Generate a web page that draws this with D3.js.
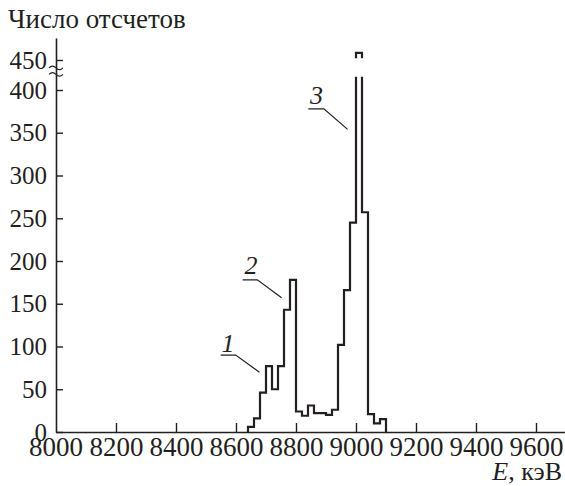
<!DOCTYPE html>
<html>
<head>
<meta charset="utf-8">
<script src="https://cdn.jsdelivr.net/npm/d3@7"></script>
</head>
<body style="margin:0;background:#fff">
<svg id="chart" width="565" height="486"></svg>
<script>
// bin left edges (keV), bin width 20
var binStarts = [8640, 8660, 8680, 8700, 8720, 8740, 8760, 8780, 8800, 8820, 8840, 8860,
                 8880, 8900, 8920, 8940, 8960, 8980, 9000, 9020, 9040, 9060, 9080];
var counts = [6, 16, 46, 77, 50, 77, 143, 178, 24, 19, 31, 22,
              22, 20, 26, 102, 166, 245, 462, 257, 21, 10, 15];
var binWidth = 20;

var xTicks = [8000, 8200, 8400, 8600, 8800, 9000, 9200, 9400, 9600];
var yTicks = [0, 50, 100, 150, 200, 250, 300, 350, 400, 450];

// peak labels: text, leader start/elbow/tip in data units
var labels = ["1", "2", "3"];
var labelPos = [[8573, 93], [8650, 185], [8868, 384]];
var leaderStart = [[8549, 90], [8622, 178], [8841, 378]];
var leaderElbow = [[8599, 90], [8671, 178], [8893, 378]];
var leaderTip = [[8678, 70], [8752, 157], [8972, 354]];

// axis break between 400 and 450
var breakBand = [422, 453];
var breakMarks = [426, 437];

var ink = "#231f20";

var svg = d3.select("#chart");

// inline styles win over anything else
function serif(sel, size) {
  sel.style("font-family", "Liberation Serif")
     .style("font-size", size + "px")
     .style("fill", ink);
  return sel;
}

var x = d3.scaleLinear().domain([8000, 9700]).range([56, 566]);
var y = d3.scaleLinear().domain([0, 400, 450, 487]).range([432, 90, 60, 38]);

// histogram
var pts = [[binStarts[0], 0]];
binStarts.forEach(function(b, i) { pts.push([b, counts[i]]); });
pts.push([binStarts[binStarts.length - 1] + binWidth, 0]);

var line = d3.line()
  .x(function(d) { return x(d[0]); })
  .y(function(d) { return y(d[1]); })
  .curve(d3.curveStepAfter);

svg.append("path")
  .attr("d", line(pts))
  .attr("fill", "none")
  .attr("stroke", ink)
  .attr("stroke-width", 2.2);

// cut the tall bar where the axis is broken
svg.append("rect")
  .attr("x", x(8990))
  .attr("width", x(9030) - x(8990))
  .attr("y", y(breakBand[1]))
  .attr("height", y(breakBand[0]) - y(breakBand[1]))
  .attr("fill", "#fff");

// x axis
var xAxis = d3.axisBottom(x)
  .tickValues(xTicks.slice(1))
  .tickSize(-9)
  .tickSizeOuter(0)
  .tickPadding(5)
  .tickFormat(d3.format("d"));

var gx = svg.append("g").attr("transform", "translate(0," + y(0) + ")").call(xAxis);
gx.select(".domain").attr("stroke", ink).attr("stroke-width", 1.6);
gx.selectAll(".tick line").attr("stroke", ink).attr("stroke-width", 1.4);
// the 8000 label sits under the y axis
gx.append("text")
  .attr("x", x(8000)).attr("y", 5).attr("dy", "0.71em")
  .attr("text-anchor", "middle")
  .text("8000");
serif(gx.selectAll("text"), 27);

// y axis
var yAxis = d3.axisLeft(y)
  .tickValues(yTicks)
  .tickSize(-7)
  .tickSizeOuter(0)
  .tickPadding(9);

var gy = svg.append("g").attr("transform", "translate(" + x(8000) + ",0)").call(yAxis);
gy.select(".domain").attr("stroke", ink).attr("stroke-width", 1.6);
gy.selectAll(".tick line").attr("stroke", ink).attr("stroke-width", 1.4);
serif(gy.selectAll("text"), 25);

// break marks on the y axis
breakMarks.forEach(function(v) {
  var cx = x(8000), cy = y(v);
  svg.append("path")
    .attr("d", "M" + (cx - 7) + "," + cy + " q3.5,-3.5 7,0 t7,0")
    .attr("fill", "none")
    .attr("stroke", ink)
    .attr("stroke-width", 1.2);
});

// axis titles
serif(svg.append("text"), 27)
  .attr("x", 8).attr("y", 28)
  .text("Число отсчетов");

var xt = serif(svg.append("text"), 26)
  .attr("x", 562).attr("y", 480)
  .attr("text-anchor", "end");
xt.append("tspan").style("font-style", "italic").text("E");
xt.append("tspan").text(", кэВ");

// peak labels with leaders
labels.forEach(function(t, i) {
  svg.append("path")
    .attr("d", "M" + x(leaderStart[i][0]) + "," + y(leaderStart[i][1]) +
               "L" + x(leaderElbow[i][0]) + "," + y(leaderElbow[i][1]) +
               "L" + x(leaderTip[i][0]) + "," + y(leaderTip[i][1]))
    .attr("fill", "none")
    .attr("stroke", ink)
    .attr("stroke-width", 1.2);
  serif(svg.append("text"), 26)
    .attr("x", x(labelPos[i][0])).attr("y", y(labelPos[i][1]))
    .attr("text-anchor", "middle")
    .style("font-style", "italic")
    .text(t);
});
</script>
</body>
</html>
